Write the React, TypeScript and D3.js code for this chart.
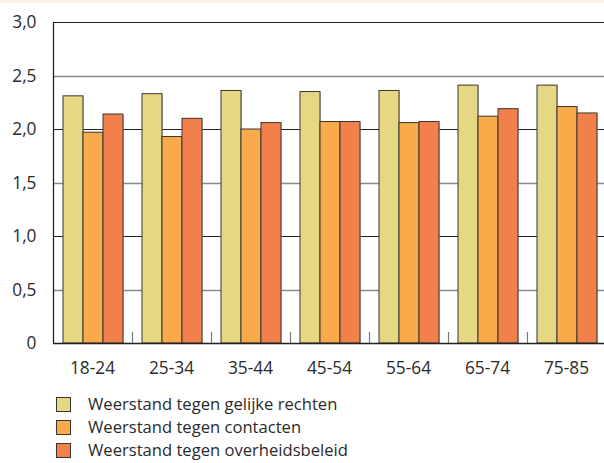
import React from "react";
import * as d3 from "d3";

const categories = ["18-24", "25-34", "35-44", "45-54", "55-64", "65-74", "75-85"];
const seriesNames = [
  "Weerstand tegen gelijke rechten",
  "Weerstand tegen contacten",
  "Weerstand tegen overheidsbeleid",
];
const gelijkeRechten = [2.31, 2.33, 2.36, 2.35, 2.36, 2.41, 2.41];
const contacten = [1.97, 1.93, 2.0, 2.07, 2.06, 2.12, 2.21];
const overheidsbeleid = [2.14, 2.1, 2.06, 2.07, 2.07, 2.19, 2.15];
const yTicks = [0, 0.5, 1.0, 1.5, 2.0, 2.5, 3.0];
const colors = ["#E5D783", "#F9AA4A", "#F2804D"];

const W = 604;
const H = 463;

export default function App() {
  const series = [gelijkeRechten, contacten, overheidsbeleid];
  const left = 53;
  const top = 22;
  const bottom = 343;
  const x = d3.scaleBand<string>().domain(categories).range([left, left + 79 * 7]).paddingInner(0).paddingOuter(0);
  const inner = d3.scaleBand<number>().domain([0, 1, 2]).range([10, 70]);
  const y = d3.scaleLinear().domain([0, 3]).range([bottom, top]);
  const fmt = (v: number) => (v === 0 ? "0" : v.toFixed(1).replace(".", ","));
  const font = "'Open Sans', 'Noto Sans', sans-serif";
  const fs = 17.3;
  const legendFs = 16.6;

  return (
    <div style={{ position: "absolute", left: 0, top: 0 }}>
      <svg width={W} height={H} style={{ display: "block" }}>
        <rect x={0} y={0} width={W} height={H} fill="#fff" />
        <rect x={0} y={0} width={W} height={3} fill="#FDF3E4" />
        {/* gridlines */}
        {yTicks.filter((t) => t > 0).map((t, i) => {
          const major = Math.round(t * 2) % 2 === 0;
          return (
            <line
              key={"g" + i}
              x1={left}
              x2={W}
              y1={Math.round(y(t)) + 0.5}
              y2={Math.round(y(t)) + 0.5}
              stroke={major ? "#222" : "#8a8a8a"}
              strokeWidth={major ? 1.2 : 1.6}
            />
          );
        })}
        {/* group tick marks */}
        {categories.slice(1).map((c, i) => (
          <line
            key={"t" + i}
            x1={Math.round(x(c)!) + 0.5}
            x2={Math.round(x(c)!) + 0.5}
            y1={bottom - 11}
            y2={bottom}
            stroke="#777"
            strokeWidth={1.2}
          />
        ))}
        {/* bars */}
        {categories.map((c, ci) =>
          series.map((s, si) => {
            const bx = x(c)! + inner(si)!;
            const by = y(s[ci]);
            return (
              <g key={c + si}>
                <rect
                  x={bx + 1}
                  y={by + 1}
                  width={inner.bandwidth()}
                  height={bottom - by}
                  fill="#999"
                  opacity={0.5}
                />
                <rect
                  x={bx}
                  y={by}
                  width={inner.bandwidth()}
                  height={bottom - by}
                  fill={colors[si]}
                  stroke="#3a3530"
                  strokeWidth={1}
                />
              </g>
            );
          })
        )}
        {/* axes */}
        <line x1={left + 0.5} x2={left + 0.5} y1={top} y2={bottom} stroke="#222" strokeWidth={1.3} />
        <line x1={left} x2={W} y1={bottom + 0.5} y2={bottom + 0.5} stroke="#222" strokeWidth={1.3} />
        {/* y labels */}
        {yTicks.map((t, i) => (
          <text
            key={"y" + i}
            x={36.5}
            y={y(t)}
            dy="0.35em"
            textAnchor="end"
            fontFamily={font}
            fontSize={fs}
            fill="#2a2a2a"
          >
            {fmt(t)}
          </text>
        ))}
        {/* x labels */}
        {categories.map((c) => (
          <text
            key={"x" + c}
            x={x(c)! + x.bandwidth() / 2}
            y={368}
            dy="0.35em"
            textAnchor="middle"
            fontFamily={font}
            fontSize={fs}
            fill="#2a2a2a"
          >
            {c}
          </text>
        ))}
        {/* legend */}
        {seriesNames.map((n, i) => (
          <g key={"l" + i} transform={`translate(56, ${397 + i * 23})`}>
            <rect x={0.5} y={0.5} width={14} height={14} fill={colors[i]} stroke="#3a3530" strokeWidth={1} />
            <text x={32} y={7.5} dy="0.35em" fontFamily={font} fontSize={legendFs} fill="#2a2a2a">
              {n}
            </text>
          </g>
        ))}
      </svg>
    </div>
  );
}
